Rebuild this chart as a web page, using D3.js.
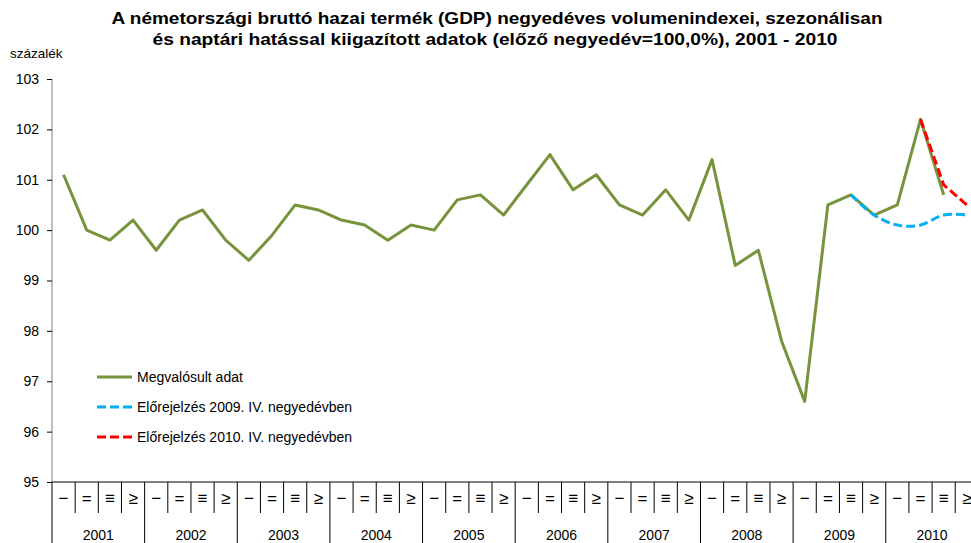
<!DOCTYPE html>
<html>
<head>
<meta charset="utf-8">
<script src="https://cdn.jsdelivr.net/npm/d3@7"></script>
<style>
  body { margin: 0; background: #fff; }
  svg { font-family: "Liberation Sans", Arial, sans-serif; display: block; }
</style>
</head>
<body>
<div id="chart"></div>
<script>
// Data
var years = ["2001", "2002", "2003", "2004", "2005", "2006", "2007", "2008", "2009", "2010"];
var quarterLabels = ["\u2212", "=", "\u2261", "\u2265"];
var actual = [
  101.1, 100.0, 99.8, 100.2,
  99.6, 100.2, 100.4, 99.8,
  99.4, 99.9, 100.5, 100.4,
  100.2, 100.1, 99.8, 100.1,
  100.0, 100.6, 100.7, 100.3,
  100.9, 101.5, 100.8, 101.1,
  100.5, 100.3, 100.8, 100.2,
  101.4, 99.3, 99.6, 97.8,
  96.6, 100.5, 100.7, 100.3,
  100.5, 102.2, 100.7
];
// forecast made in 2009 Q4 (starts at 2009 Q3 = index 34)
var forecast2009Start = 34;
var forecast2009 = [100.7, 100.3, 100.1, 100.1, 100.3, 100.3];
// forecast made in 2010 Q4 (starts at 2010 Q2 = index 37)
var forecast2010Start = 37;
var forecast2010 = [102.2, 100.9, 100.5];
var yTicks = [95, 96, 97, 98, 99, 100, 101, 102, 103];

var W = 971, H = 543;
var plotLeft = 52, qW = 23.16, plotTop = 79, plotBottom = 482;

var svg = d3.select("#chart").append("svg")
    .attr("width", W).attr("height", H);

// Title
var title = svg.append("g").attr("font-weight", "bold").attr("font-size", 17)
    .attr("text-anchor", "middle");
title.append("text").attr("x", 497).attr("y", 24)
    .attr("textLength", 771).attr("lengthAdjust", "spacingAndGlyphs")
    .text("A németországi bruttó hazai termék (GDP) negyedéves volumenindexei, szezonálisan");
title.append("text").attr("x", 495).attr("y", 45)
    .attr("textLength", 685).attr("lengthAdjust", "spacingAndGlyphs")
    .text("és naptári hatással kiigazított adatok (előző negyedév=100,0%), 2001 - 2010");

svg.append("text").attr("x", 10).attr("y", 58).attr("font-size", 13.5)
    .text("százalék");

// Scales
var idx = d3.range(years.length * 4);
var x = d3.scaleBand().domain(idx).range([plotLeft, plotLeft + idx.length * qW]);
var y = d3.scaleLinear().domain([95, 103]).range([plotBottom, plotTop]);
var cx = function(i) { return x(i) + x.bandwidth() / 2; };

// Y axis
var yAxis = svg.append("g")
    .attr("transform", "translate(" + plotLeft + ",0)")
    .call(d3.axisLeft(y).tickValues(yTicks).tickSize(5).tickPadding(8).tickFormat(d3.format("d")));
yAxis.select(".domain").attr("stroke", "#7f7f7f").attr("d", "M0," + plotTop + "V" + plotBottom);
yAxis.selectAll(".tick line").attr("stroke", "#000");
yAxis.selectAll(".tick text").attr("font-size", 14).attr("font-family", "Liberation Sans, Arial, sans-serif")
    .attr("fill", "#000");

// X axis: quarters and years
var xg = svg.append("g");
xg.append("line").attr("x1", plotLeft).attr("x2", W).attr("y1", plotBottom).attr("y2", plotBottom)
    .attr("stroke", "#000");
xg.selectAll(".qtick").data(idx).enter().append("line")
    .attr("x1", function(i) { return x(i); })
    .attr("x2", function(i) { return x(i); })
    .attr("y1", plotBottom)
    .attr("y2", function(i) { return i % 4 === 0 ? H : 513; })
    .attr("stroke", "#000").attr("stroke-width", 1);
xg.selectAll(".qlab").data(idx).enter().append("text")
    .attr("x", cx).attr("y", 504)
    .attr("text-anchor", "middle").attr("font-size", 17)
    .text(function(i) { return quarterLabels[i % 4]; });
xg.selectAll(".ylab").data(years).enter().append("text")
    .attr("x", function(d, j) { return x(j * 4) + 2 * qW; })
    .attr("y", 540)
    .attr("text-anchor", "middle").attr("font-size", 14)
    .text(function(d) { return d; });

// Lines
var line = d3.line().x(function(d) { return cx(d.i); }).y(function(d) { return y(d.v); });
var smooth = d3.line().x(function(d) { return cx(d.i); }).y(function(d) { return y(d.v); })
    .curve(d3.curveCatmullRom.alpha(0.5));

svg.append("path")
    .datum(actual.map(function(v, i) { return {i: i, v: v}; }))
    .attr("fill", "none").attr("stroke", "#77933C").attr("stroke-width", 3)
    .attr("stroke-linejoin", "round")
    .attr("d", line);

svg.append("path")
    .datum(forecast2009.map(function(v, k) { return {i: forecast2009Start + k, v: v}; }))
    .attr("fill", "none").attr("stroke", "#00B0F0").attr("stroke-width", 3)
    .attr("stroke-dasharray", "9,4")
    .attr("d", smooth);

svg.append("path")
    .datum(forecast2010.map(function(v, k) { return {i: forecast2010Start + k, v: v}; }))
    .attr("fill", "none").attr("stroke", "#FF0000").attr("stroke-width", 3)
    .attr("stroke-dasharray", "9,4")
    .attr("d", line);

// Legend
var legend = [
  {label: "Megvalósult adat", color: "#77933C", dash: null},
  {label: "Előrejelzés 2009. IV. negyedévben", color: "#00B0F0", dash: "9,4"},
  {label: "Előrejelzés 2010. IV. negyedévben", color: "#FF0000", dash: "9,4"}
];
var lg = svg.append("g");
legend.forEach(function(d, k) {
  var ly = 377 + k * 30;
  lg.append("line").attr("x1", 97).attr("x2", 132).attr("y1", ly).attr("y2", ly)
    .attr("stroke", d.color).attr("stroke-width", 3)
    .attr("stroke-dasharray", d.dash);
  lg.append("text").attr("x", 137).attr("y", ly + 5).attr("font-size", 14)
    .text(d.label);
});
</script>
</body>
</html>
